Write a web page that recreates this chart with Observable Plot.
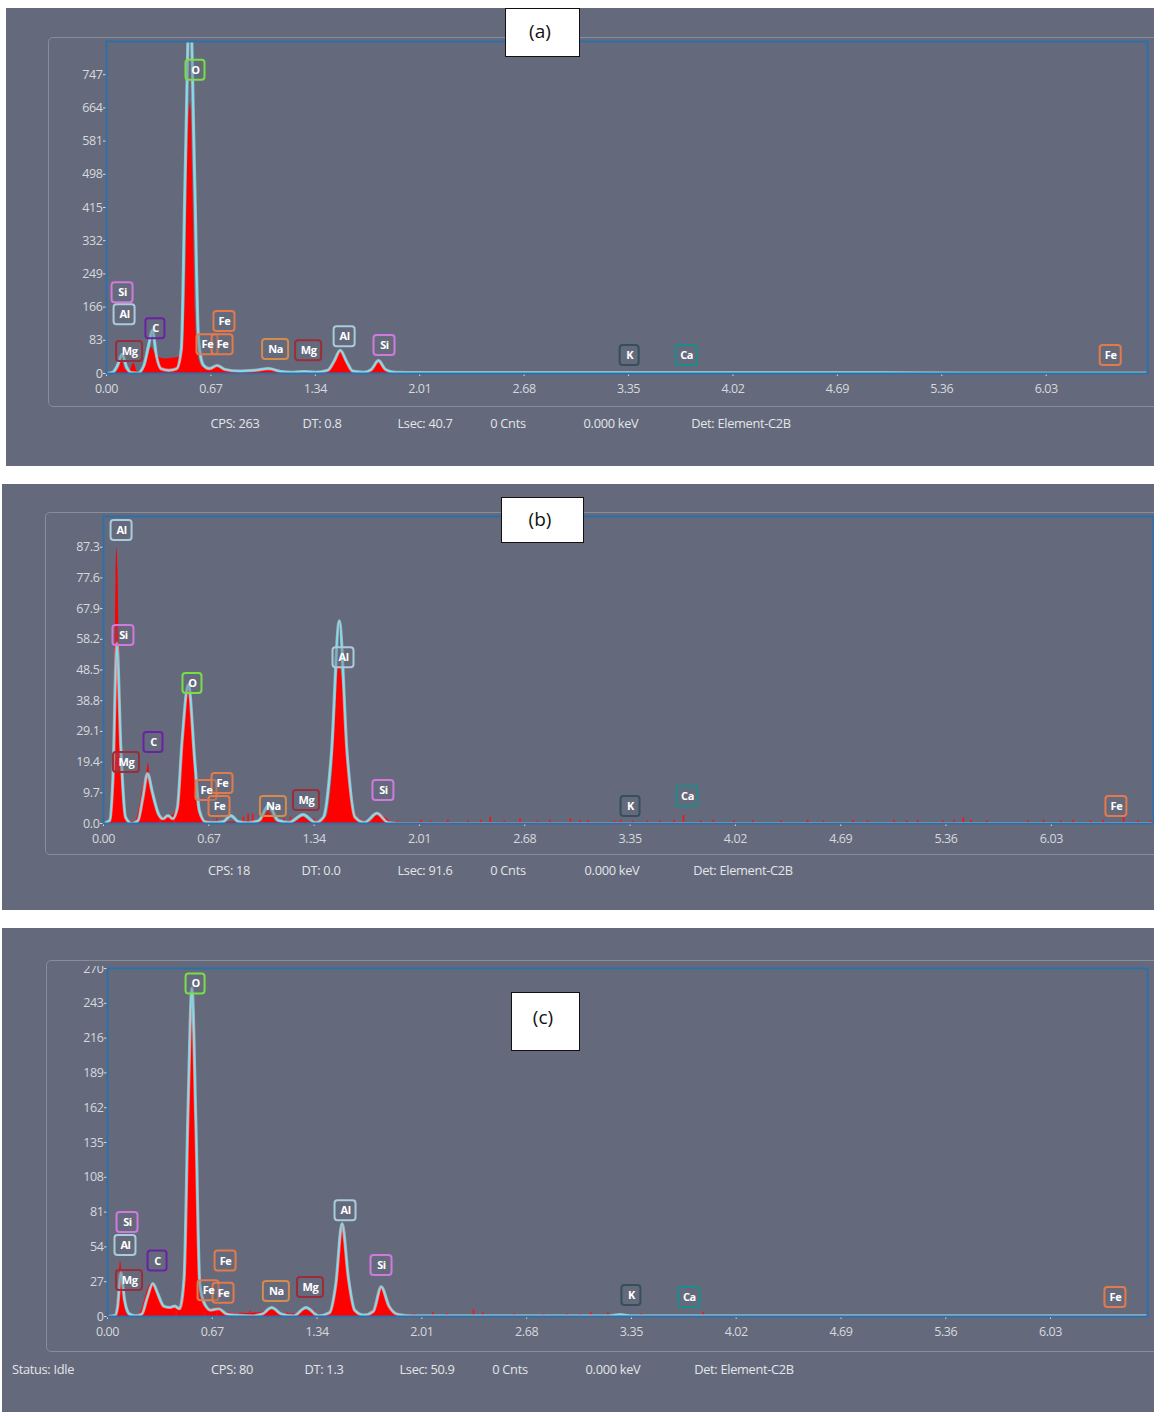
<!DOCTYPE html>
<html><head><meta charset="utf-8">
<script src="https://cdn.jsdelivr.net/npm/d3@7"></script>
<script src="https://cdn.jsdelivr.net/npm/@observablehq/plot@0.6"></script>
<style>
html,body{margin:0;padding:0;background:#fff}
body{width:1154px;height:1412px;position:relative;overflow:hidden;font-family:"Open Sans","Noto Sans",sans-serif}
.panel{position:absolute;background:#646a7b}
.inner{position:absolute;border:1.5px solid #878d99;border-radius:5px;box-sizing:border-box}
.wrap{position:absolute;left:0}
.tag{position:absolute;background:#fff;border:1.5px solid #111;box-sizing:border-box;font-size:19px;color:#111;text-align:center;font-family:"Open Sans",sans-serif;z-index:5}
.foot{position:absolute;font-size:12.8px;color:#e3e5ea;white-space:nowrap;transform:translate(-50%,-50%);letter-spacing:-0.3px}
</style>
</head><body>
<script>
// ---------- data ----------
const xTicks = [0, 0.67, 1.34, 2.01, 2.68, 3.35, 4.02, 4.69, 5.36, 6.03];
const yTicksA = [0, 83, 166, 249, 332, 415, 498, 581, 664, 747];
const yTicksB = [0, 9.7, 19.4, 29.1, 38.8, 48.5, 58.2, 67.9, 77.6, 87.3];
const yTicksC = [0, 27, 54, 81, 108, 135, 162, 189, 216, 243, 270];

// panel (a)
const redA_E = [0, 0.05, 0.08, 0.10, 0.12, 0.145, 0.175, 0.20, 0.23, 0.26, 0.29, 0.31, 0.34, 0.38, 0.42, 0.46, 0.49, 0.51, 0.525, 0.54, 0.555, 0.57, 0.59, 0.62, 0.66, 0.71, 0.76, 0.85, 0.95, 1.04, 1.12, 1.20, 1.27, 1.34, 1.42, 1.46, 1.50, 1.54, 1.58, 1.65, 1.70, 1.745, 1.79, 1.85, 2.0, 6.68];
const redA_c = [0, 1, 12, 30, 10, 4, 25, 4, 3, 30, 65, 52, 40, 36, 38, 40, 60, 250, 600, 676, 450, 150, 40, 15, 10, 18, 8, 5, 6, 10, 4, 3, 4, 2, 6, 28, 57, 28, 5, 2, 8, 32, 8, 2, 1, 0];
const cyanA_E = [0, 0.04, 0.07, 0.10, 0.13, 0.16, 0.20, 0.24, 0.27, 0.295, 0.32, 0.35, 0.40, 0.45, 0.48, 0.505, 0.535, 0.565, 0.59, 0.62, 0.66, 0.71, 0.76, 0.85, 0.95, 1.04, 1.12, 1.20, 1.27, 1.34, 1.42, 1.46, 1.50, 1.54, 1.58, 1.65, 1.70, 1.745, 1.79, 1.85, 2.0, 3.0, 4.0, 4.9, 5.5, 6.68];
const cyanA_c = [0, 3, 20, 48, 15, 2, 1, 20, 70, 108, 45, 12, 8, 12, 60, 500, 950, 500, 90, 22, 12, 20, 10, 6, 8, 12, 5, 3, 5, 3, 8, 30, 58, 30, 6, 3, 10, 32, 10, 3, 2, 2, 2, 2, 1, 1];
const noiseA_E = [];
const noiseA_c = [];
const labA_t = ["Si", "Al", "Mg", "C", "O", "Fe", "Fe", "Fe", "Na", "Mg", "Al", "Si", "K", "Ca", "Fe"];
const labA_E = [0.103, 0.116, 0.148, 0.314, 0.571, 0.757, 0.648, 0.745, 1.085, 1.297, 1.528, 1.784, 3.357, 3.723, 6.444];
const labA_c = [202, 147, 55, 112, 758, 130, 72, 72, 60, 57, 92, 70, 45, 45, 45];

// panel (b)
const redB_E = [0, 0.05, 0.07, 0.08, 0.085, 0.092, 0.10, 0.115, 0.135, 0.16, 0.20, 0.23, 0.255, 0.275, 0.285, 0.30, 0.33, 0.36, 0.40, 0.44, 0.47, 0.50, 0.525, 0.545, 0.565, 0.59, 0.62, 0.66, 0.70, 1.0, 1.05, 1.10, 1.22, 1.27, 1.32, 1.42, 1.46, 1.50, 1.54, 1.58, 1.63, 1.70, 1.745, 1.79, 1.84, 6.68];
const redB_c = [0, 1, 30, 78, 87, 80, 50, 15, 3, 0.5, 0.5, 5, 12, 15, 19, 12, 5, 2, 2, 2.5, 6, 22, 38, 42, 30, 9, 2, 1, 0.5, 0.5, 4, 0.5, 0.5, 2, 0.5, 2, 18, 50, 35, 8, 1, 0.5, 3, 2, 0.3, 0];
const cyanB_E = [0, 0.04, 0.06, 0.085, 0.11, 0.14, 0.18, 0.22, 0.25, 0.28, 0.31, 0.35, 0.38, 0.41, 0.44, 0.47, 0.50, 0.54, 0.58, 0.61, 0.65, 0.70, 0.76, 0.81, 0.86, 0.92, 0.99, 1.05, 1.11, 1.18, 1.27, 1.35, 1.40, 1.45, 1.50, 1.55, 1.60, 1.66, 1.74, 1.81, 1.88, 6.68];
const cyanB_c = [0, 1, 14, 57, 24, 2, 0, 1, 8, 15.8, 10, 3, 1.5, 2.5, 1.5, 5, 26, 44, 20, 4, 0.5, 0.3, 0.5, 2.5, 0.5, 0.2, 1, 5.7, 1, 0.3, 2.8, 0.3, 2, 22, 64, 22, 2, 0.3, 3.2, 0.3, 0, 0];
const noiseB_E = [0.36, 0.45, 0.63, 0.72, 0.89, 0.92, 0.95, 1.01, 1.15, 1.19, 1.34, 1.40, 1.63, 1.70, 1.87, 2.02, 2.08, 2.19, 2.32, 2.40, 2.46, 2.55, 2.65, 2.76, 2.84, 2.97, 3.03, 3.08, 3.25, 3.29, 3.37, 3.46, 3.54, 3.63, 3.69, 3.80, 3.88, 4.01, 4.13, 4.31, 4.48, 4.58, 4.77, 4.86, 5.03, 5.11, 5.18, 5.34, 5.41, 5.47, 5.52, 5.62, 5.88, 5.98, 6.09, 6.17, 6.28, 6.36, 6.49, 6.58, 6.66];
const noiseB_c = [1.5, 2, 2, 1.5, 2, 3, 3, 2, 1.5, 2, 1.5, 1.5, 1.5, 1.5, 0.8, 1, 0.8, 1, 0.8, 1, 2, 0.8, 1.5, 0.8, 1, 1.5, 1, 1, 0.8, 1, 0.8, 0.8, 0.8, 1, 2.5, 0.8, 1, 0.8, 0.8, 0.8, 1, 0.8, 1, 0.8, 1, 0.8, 1, 0.8, 1, 1.8, 1, 0.8, 0.8, 1, 0.8, 1, 0.8, 1, 1.8, 0.8, 0.8];
const labB_t = ["Al", "Si", "O", "C", "Mg", "Fe", "Fe", "Fe", "Na", "Mg", "Al", "Si", "K", "Ca", "Fe"];
const labB_E = [0.115, 0.127, 0.566, 0.318, 0.146, 0.655, 0.757, 0.738, 1.081, 1.291, 1.527, 1.781, 3.353, 3.715, 6.444];
const labB_c = [92.6, 59.4, 44.2, 25.6, 19.3, 10.4, 12.6, 5.4, 5.4, 7.3, 52.4, 10.4, 5.4, 8.5, 5.4];

// panel (c)
const redC_E = [0, 0.05, 0.07, 0.083, 0.10, 0.12, 0.15, 0.19, 0.22, 0.25, 0.28, 0.30, 0.33, 0.36, 0.40, 0.43, 0.46, 0.49, 0.515, 0.54, 0.565, 0.59, 0.62, 0.66, 0.71, 0.76, 0.85, 0.98, 1.05, 1.12, 1.20, 1.27, 1.34, 1.42, 1.46, 1.50, 1.54, 1.58, 1.64, 1.70, 1.75, 1.80, 1.86, 1.95, 2.3, 6.65];
const redC_c = [0, 0, 20, 43, 20, 3, 0, 1, 5, 18, 25, 24, 15, 8, 7, 8, 6, 30, 150, 240, 140, 25, 8, 6, 7, 3, 2, 3, 5, 2, 2, 5, 1, 3, 25, 72, 35, 6, 1, 5, 23, 10, 2, 1, 0.5, 0];
const cyanC_E = [0, 0.05, 0.065, 0.085, 0.11, 0.14, 0.18, 0.22, 0.255, 0.29, 0.32, 0.36, 0.40, 0.43, 0.46, 0.49, 0.515, 0.54, 0.565, 0.59, 0.62, 0.66, 0.71, 0.76, 0.82, 0.92, 0.99, 1.05, 1.11, 1.19, 1.27, 1.35, 1.42, 1.46, 1.50, 1.54, 1.58, 1.64, 1.70, 1.75, 1.80, 1.86, 1.95, 3.2, 3.28, 3.35, 6.65];
const cyanC_c = [0, 1, 8, 34, 12, 2, 0.5, 2, 15, 25.6, 18, 8, 7, 8, 6, 30, 160, 255, 150, 25, 10, 5, 6, 2, 1, 0.5, 2, 7, 2, 0.5, 7, 0.5, 3, 25, 72, 30, 5, 1, 4, 23, 8, 1.5, 0.5, 0.5, 1.5, 0.5, 0.5];
const noiseC_E = [0.44, 0.62, 0.70, 0.78, 0.85, 0.91, 0.96, 1.15, 1.32, 1.60, 1.96, 2.08, 2.17, 2.34, 2.40, 2.60, 2.79, 2.94, 3.02, 3.09, 3.20, 3.41, 3.81];
const noiseC_c = [4, 3, 4, 3, 3, 4, 3, 3, 5, 2, 2, 3, 2, 5, 3, 2, 2, 2, 2, 3, 3, 2, 3];
const labC_t = ["O", "Si", "Al", "Mg", "C", "Fe", "Fe", "Fe", "Na", "Mg", "Al", "Si", "K", "Ca", "Fe"];
const labC_E = [0.563, 0.128, 0.115, 0.141, 0.320, 0.755, 0.646, 0.742, 1.080, 1.298, 1.522, 1.752, 3.350, 3.721, 6.445];
const labC_c = [258, 73, 55, 28, 43, 43, 20, 18, 19.4, 22.5, 82, 39.6, 16.3, 14.7, 14.7];

const footA = ["CPS: 263", "DT: 0.8", "Lsec: 40.7", "0 Cnts", "0.000 keV", "Det: Element-C2B"];
const footB = ["CPS: 18", "DT: 0.0", "Lsec: 91.6", "0 Cnts", "0.000 keV", "Det: Element-C2B"];
const footC = ["Status: Idle", "CPS: 80", "DT: 1.3", "Lsec: 50.9", "0 Cnts", "0.000 keV", "Det: Element-C2B"];
const tags = ["(a)", "(b)", "(c)"];

// ---------- styles ----------
const elementColor = {O: "#78de45", C: "#6a22a4", Si: "#d07ade", Al: "#a8ccdb", Mg: "#9a2d38", Fe: "#e27a4c", Na: "#d58a4e", K: "#34505a", Ca: "#1f8b8b"};
const PANEL = "#646a7b";

const zip = (E, c) => E.map((e, i) => ({E: e, c: c[i]}));
const labs = (t, E, c) => t.map((s, i) => ({t: s, E: E[i], c: c[i]}));

function spectrum(o) {
  const red = zip(o.redE, o.redC), cyan = zip(o.cyanE, o.cyanC), noise = zip(o.noiseE, o.noiseC);
  const labels = labs(o.labT, o.labE, o.labC);
  const classes = [
    [s => s.length === 1, 19],
    [s => s === "Mg" || s === "Na", 26],
    [s => s.length === 2 && s !== "Mg" && s !== "Na", 21]
  ];
  const boxes = classes.map(([f, w]) => Plot.rect(labels.filter(d => f(d.t)), {
    x1: "E", x2: "E", y1: "c", y2: "c",
    insetLeft: -w / 2, insetRight: -w / 2, insetTop: -10, insetBottom: -10,
    rx: 3, stroke: d => elementColor[d.t], strokeWidth: 2, fill: PANEL, fillOpacity: 0.35
  }));
  return Plot.plot({
    width: 1154, height: o.height,
    marginLeft: o.ml, marginRight: o.mr, marginTop: o.mt, marginBottom: 27,
    style: {background: "transparent", color: "#d6d9df", fontSize: "12.5px", fontFamily: "'Open Sans', sans-serif", letterSpacing: "-0.4px"},
    color: {type: "identity"},
    x: {domain: [0, o.xMax], ticks: xTicks, tickFormat: d3.format(".2f"), tickSize: 3, tickPadding: 8, label: null},
    y: {domain: [0, o.yMax], ticks: o.yTicks, tickFormat: o.yFormat, tickSize: 3, tickPadding: 1, label: null},
    marks: [
      Plot.areaY(red, {x: "E", y: "c", fill: "#ff0000", curve: "monotone-x", clip: true}),
      Plot.ruleX(noise, {x: "E", y1: 0, y2: "c", stroke: "#ff1010", strokeWidth: 1.6}),
      Plot.line(cyan, {x: "E", y: "c", stroke: "#ffffff", strokeOpacity: 0.45, strokeWidth: 3.2, curve: "monotone-x", clip: true}),
      Plot.line(cyan, {x: "E", y: "c", stroke: "#78e2f2", strokeWidth: 1.7, curve: "monotone-x", clip: true}),
      ...boxes,
      Plot.text(labels, {x: "E", y: "c", text: "t", fill: "#ffffff", fontSize: 11, fontWeight: 700, letterSpacing: "0px"}),
      Plot.frame({stroke: "#2f6ea8", strokeWidth: 2})
    ]
  });
}

// ---------- layout ----------
function div(cls, css, text) {
  const d = document.createElement("div");
  d.className = cls;
  Object.assign(d.style, css);
  if (text != null) d.textContent = text;
  document.body.appendChild(d);
  return d;
}
const px = v => v + "px";

const panels = [
  {box: [6, 8, 1148, 458], inner: [48, 37, 1130, 370], svgTop: 30,
   spec: {redE: redA_E, redC: redA_c, cyanE: cyanA_E, cyanC: cyanA_c, noiseE: noiseA_E, noiseC: noiseA_c,
          labT: labA_t, labE: labA_E, labC: labA_c, xMax: 6.68, yMax: 830, yTicks: yTicksA, yFormat: d3.format("d"),
          height: 370, ml: 106, mr: 7, mt: 11},
   tag: [505, 8, 75, 49, 30], foot: footA, footX: [235, 322, 425, 508, 611, 741], footY: 423},
  {box: [2, 484, 1152, 426], inner: [45, 512, 1130, 343], svgTop: 505,
   spec: {redE: redB_E, redC: redB_c, cyanE: cyanB_E, cyanC: cyanB_c, noiseE: noiseB_E, noiseC: noiseB_c,
          labT: labB_t, labE: labB_E, labC: labB_c, xMax: 6.68, yMax: 97, yTicks: yTicksB, yFormat: d3.format(".1f"),
          height: 345, ml: 103, mr: 1, mt: 11},
   tag: [501, 497, 83, 46, 518], foot: footB, footX: [229, 321, 425, 508, 612, 743], footY: 870},
  {box: [2, 928, 1152, 484], inner: [46, 960, 1130, 392], svgTop: 966,
   spec: {redE: redC_E, redC: redC_c, cyanE: cyanC_E, cyanC: cyanC_c, noiseE: noiseC_E, noiseC: noiseC_c,
          labT: labC_t, labE: labC_E, labC: labC_c, xMax: 6.65, yMax: 270, yTicks: yTicksC, yFormat: d3.format("d"),
          height: 377, ml: 107, mr: 7, mt: 2},
   tag: [511, 992, 69, 59, 1016], foot: footC, footX: [43, 232, 324, 427, 510, 613, 744], footY: 1369}
];

panels.forEach((p, i) => {
  div("panel", {left: px(p.box[0]), top: px(p.box[1]), width: px(p.box[2]), height: px(p.box[3])});
  div("inner", {left: px(p.inner[0]), top: px(p.inner[1]), width: px(p.inner[2]), height: px(p.inner[3])});
  const w = div("wrap", {top: px(p.svgTop)});
  w.appendChild(spectrum(p.spec));
  const [tx, ty, tw, th, tc] = p.tag;
  const t = div("tag", {left: px(tx), top: px(ty), width: px(tw), height: px(th)});
  const s = document.createElement("span");
  s.textContent = tags[i];
  Object.assign(s.style, {position: "absolute", left: "0", right: "5px", top: px(tc - ty - 13), lineHeight: "26px"});
  t.appendChild(s);
  p.foot.forEach((txt, k) => div("foot", {left: px(p.footX[k]), top: px(p.footY)}, txt));
});
</script>
</body></html>
